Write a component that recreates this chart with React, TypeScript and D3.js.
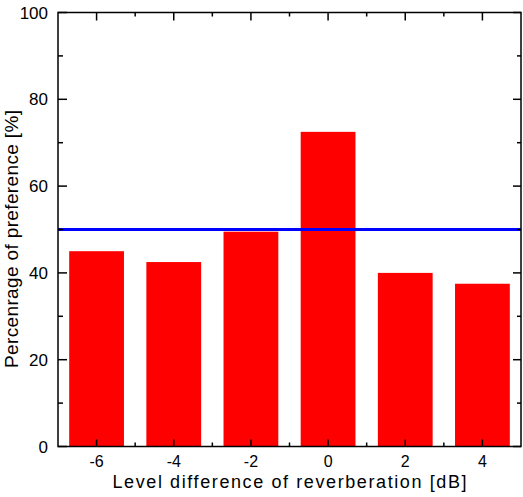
import React from 'react';
import * as d3 from 'd3';

// level difference of reverberation [dB]
const levels = [-6, -4, -2, 0, 2, 4];
// percentage of preference [%]
const preference = [45, 42.5, 49.5, 72.5, 40, 37.5];
const chanceLevel = 50;
const yTicks = [0, 20, 40, 60, 80, 100];
const yMinor = [10, 30, 50, 70, 90];
const xMinor = [-5, -3, -1, 1, 3];

const W = 523;
const H = 497;
const margin = { left: 58, right: 2, top: 12.5, bottom: 50.5 };

export default function App() {
  const x = d3.scaleLinear().domain([-7, 5]).range([margin.left, W - margin.right]);
  const y = d3.scaleLinear().domain([0, 100]).range([H - margin.bottom, margin.top]);
  const barW = x(1.42) - x(0);
  const [x0, x1] = x.range();
  const [y0, y1] = y.range();
  const font = 'Arial, "Liberation Sans", sans-serif';

  return (
    <svg width={W} height={H} style={{ position: 'absolute', left: 0, top: 0 }} fontFamily={font}>
      <rect x={0} y={0} width={W} height={H} fill="#fff" />
      {/* bars */}
      {levels.map((lv, i) => (
        <rect key={lv} x={x(lv) - barW / 2} y={y(preference[i])} width={barW}
          height={y(0) - y(preference[i])} fill="#ff0000" />
      ))}
      {/* 50% line */}
      <line x1={x0} x2={x1} y1={y(chanceLevel)} y2={y(chanceLevel)} stroke="#0000ff" strokeWidth={3} />

      {/* ticks: left / right */}
      {yTicks.map(t => (
        <g key={'yt' + t} stroke="#000" strokeWidth={1.5}>
          <line x1={x0} x2={x0 + 9} y1={y(t)} y2={y(t)} />
          <line x1={x1} x2={x1 - 8} y1={y(t)} y2={y(t)} />
        </g>
      ))}
      {yMinor.map(t => (
        <g key={'ym' + t} stroke="#000" strokeWidth={1.5}>
          <line x1={x0} x2={x0 + 5} y1={y(t)} y2={y(t)} />
          <line x1={x1} x2={x1 - 4} y1={y(t)} y2={y(t)} />
        </g>
      ))}
      {/* ticks: bottom / top */}
      {levels.map(lv => (
        <g key={'xt' + lv} stroke="#000" strokeWidth={1.5}>
          <line x1={x(lv)} x2={x(lv)} y1={y0} y2={y0 - 7} />
          <line x1={x(lv)} x2={x(lv)} y1={y1} y2={y1 + 8} />
        </g>
      ))}
      {xMinor.map(lv => (
        <g key={'xm' + lv} stroke="#000" strokeWidth={1.5}>
          <line x1={x(lv)} x2={x(lv)} y1={y0} y2={y0 - 4} />
          <line x1={x(lv)} x2={x(lv)} y1={y1} y2={y1 + 4} />
        </g>
      ))}

      {/* frame */}
      <rect x={x0} y={y1} width={x1 - x0} height={y0 - y1} fill="none" stroke="#000" strokeWidth={1.5} />

      {/* tick labels */}
      {yTicks.map(t => (
        <text key={'yl' + t} x={x0 - 10} y={y(t)} dy="0.36em" textAnchor="end" fontSize={17}>{t}</text>
      ))}
      {levels.map(lv => (
        <text key={'xl' + lv} x={x(lv)} y={467} textAnchor="middle" fontSize={16}>{lv}</text>
      ))}

      {/* axis titles */}
      <text x={(x0 + x1) / 2} y={488} textAnchor="middle" fontSize={18}
        textLength={354} lengthAdjust="spacing">Level difference of reverberation [dB]</text>
      <text transform={`translate(18,239) rotate(-90)`} textAnchor="middle" fontSize={19}
        textLength={258} lengthAdjust="spacing">Percenrage of preference [%]</text>
    </svg>
  );
}
